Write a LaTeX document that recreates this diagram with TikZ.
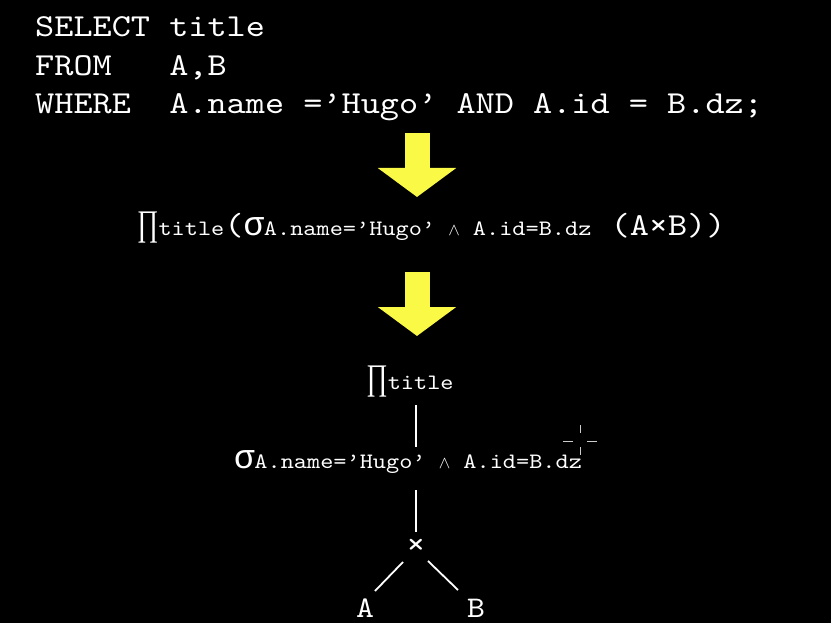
\documentclass[tikz,border=0pt]{standalone}
\usepackage{fontspec}
\setmainfont[FakeStretch=1.14]{lmmono10-regular.otf}
\newfontfamily\symfont{Liberation Serif}
\newfontfamily\greekfont{Liberation Mono}
\usetikzlibrary{arrows.meta, positioning}
\definecolor{arrowyellow}{RGB}{250, 250, 70}

% relational algebra pieces
\newcommand{\prj}{{\symfont\fontsize{36}{36}\selectfont\scalebox{0.72}[1]{∏}}}
\newcommand{\sel}{{\greekfont\fontsize{34}{34}\selectfont σ}}
\newcommand{\sub}[1]{{\fontsize{22}{22}\selectfont #1}}
\newcommand{\andop}{{\fontsize{18}{18}\selectfont$\wedge$}}

\begin{document}
\begin{tikzpicture}[
  x=1pt, y=-1pt,
  code/.style={text=white, inner sep=0pt, anchor=base west, font=\fontsize{32}{38}\selectfont},
  algebra/.style={text=white, inner sep=0pt, font=\fontsize{32}{36}\selectfont},
  treeline/.style={draw=white, line width=1.8pt},
  bigarrow/.style={draw=arrowyellow, line width=25pt, -{Triangle[width=77pt, length=29pt, fill=arrowyellow]}}
]
  \useasboundingbox[fill=black] (0,0) rectangle (831,623);

  % SQL query
  \node[code] (select) at (35,37) {SELECT title};
  \node[code] (from) at (35,75.5) {FROM~~~A,B};
  \node[code] (where) at (35,113.5) {WHERE~~A.name~=’Hugo’ AND A.id = B.dz;};

  % first arrow
  \coordinate (arrA) at (417,133);
  \coordinate (arrB) at (417,197);
  \draw[bigarrow] (arrA) -- (arrB);

  % algebra expression
  \node[algebra, anchor=base west] (expr) at (137,236)
    {\prj\sub{title}(\sel\sub{A.name=’Hugo’ \andop{} A.id=B.dz}~(A×B))};

  % second arrow
  \coordinate (arrC) at (417,272);
  \coordinate (arrD) at (417,336);
  \draw[bigarrow] (arrC) -- (arrD);

  % operator tree
  \node[algebra, anchor=base] (proj) at (410,389) {\prj\sub{title}};
  \node[algebra, anchor=base] (selnode) at (408,468) {\sel\sub{A.name=’Hugo’ \andop{} A.id=B.dz}};
  \node[algebra] (cross) at (416,547) {×};
  \node[algebra, font=\fontsize{30}{30}\selectfont] (relA) at (365,608) {A};
  \node[algebra, font=\fontsize{30}{30}\selectfont] (relB) at (476,608) {B};

  \draw[treeline] ([yshift=-16pt]proj.base -| cross) -- ([yshift=21pt]selnode.base -| cross);
  \draw[treeline] ([yshift=-22pt]selnode.base -| cross) -- ([yshift=15pt]cross.center);
  \draw[treeline] ([shift={(-13pt,-15pt)}]cross.center) -- ([shift={(10pt,17pt)}]relA.center);
  \draw[treeline] ([shift={(12pt,-14pt)}]cross.center) -- ([shift={(-18pt,18pt)}]relB.center);

  % mouse cursor
  \draw[white!80!black, line width=1pt] (580,425) -- (580,433) (580,447) -- (580,455)
    (563,441) -- (573,441) (587,441) -- (597,441);
\end{tikzpicture}
\end{document}
